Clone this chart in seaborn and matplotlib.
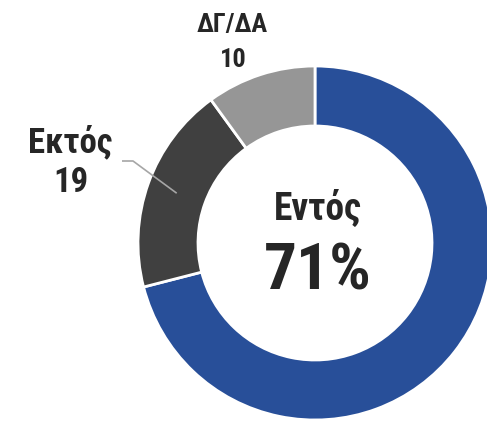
import numpy as np
import matplotlib
matplotlib.use("Agg")
import matplotlib.pyplot as plt
from matplotlib import font_manager as fm
import seaborn as sns

# Data
categories = ["Εντός", "Εκτός", "ΔΓ/ΔΑ"]
values = [71, 19, 10]
colors = ["#284F99", "#404040", "#969696"]

sns.set_theme(style="white")

# pick a condensed bold face that has Greek
installed = {f.name for f in fm.fontManager.ttflist}
family = "DejaVu Sans"
for cand in ["Liberation Sans Narrow", "Arial Narrow", "Roboto Condensed",
             "Fira Sans Condensed", "IBM Plex Sans Condensed", "Open Sans Condensed"]:
    if cand in installed:
        family = cand
        break
plt.rcParams['font.family'] = [family, 'DejaVu Sans']
plt.rcParams['font.stretch'] = 'condensed'

W, H = 487, 421
fig = plt.figure(figsize=(W / 100, H / 100), dpi=100)
ax = fig.add_axes([0, 0, 1, 1])

# donut geometry in pixel coords (y up)
cx, cy, r = 315, H - 243, 177
ring = 60

wedges, _ = ax.pie(values, colors=colors, startangle=90, counterclock=False,
                   center=(cx, cy), radius=r,
                   wedgeprops=dict(width=ring, edgecolor="white", linewidth=2))
ax.set_xlim(0, W)
ax.set_ylim(0, H)
ax.set_aspect("equal")
ax.axis("off")

txt = "#262626"
kw = dict(ha="center", va="baseline", fontweight="bold", color=txt)
# center label
ax.text(318, H - 220, categories[0], fontsize=27, **kw)
ax.text(318, H - 290, f"{values[0]}%", fontsize=47, **kw)

# outside labels
ax.text(232, H - 32, categories[2], fontsize=19, **kw)
ax.text(233, H - 67, str(values[2]), fontsize=19, **kw)
ax.text(70, H - 152, categories[1], fontsize=25, **kw)
ax.text(71, H - 192, str(values[1]), fontsize=25, **kw)

# leader line to the middle of the Εκτός wedge
w = wedges[1]
mid = np.deg2rad((w.theta1 + w.theta2) / 2)
rm = r - ring / 2
ex, ey = cx + rm * np.cos(mid), cy + rm * np.sin(mid)
ax.plot([122, 133, ex], [H - 161, H - 161, ey], color="#a6a6a6", lw=1.2,
        solid_capstyle="butt")

fig.savefig("out.png", dpi=100)
